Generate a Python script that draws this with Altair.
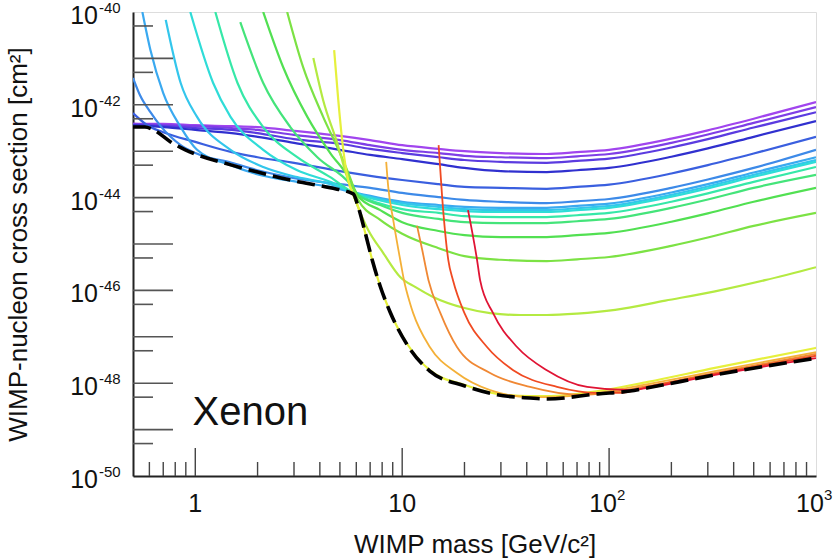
import altair as alt
import pandas as pd

FONT = "Liberation Sans"
W, H = 683, 464

# WIMP masses [GeV/c^2] shared by the lowest-threshold limit curves
flat_mass = [0.5, 0.7, 1, 1.5, 2, 3, 5, 7, 10, 15, 20, 30, 50, 70, 100, 200, 300, 500, 1000]

# log10 of the spin-independent cross-section limit [cm^2]
c01_log = [-42.41, -42.41, -42.44, -42.46, -42.48, -42.56, -42.67, -42.76, -42.87, -42.95,
           -43.00, -43.04, -43.06, -43.02, -42.97, -42.73, -42.55, -42.30, -41.94]
c02_log = [-42.41, -42.44, -42.46, -42.50, -42.54, -42.65, -42.76, -42.87, -42.97, -43.04,
           -43.10, -43.13, -43.15, -43.11, -43.06, -42.82, -42.64, -42.39, -42.05]
c03_log = [-42.44, -42.46, -42.50, -42.54, -42.61, -42.74, -42.84, -42.95, -43.04, -43.13,
           -43.19, -43.23, -43.25, -43.21, -43.16, -42.92, -42.74, -42.49, -42.16]
c04_log = [-42.44, -42.48, -42.54, -42.61, -42.69, -42.82, -42.97, -43.08, -43.17, -43.28,
           -43.36, -43.43, -43.45, -43.41, -43.36, -43.12, -42.94, -42.69, -42.35]

c05_mass = [0.5, 0.586, 0.7, 1, 1.5, 2, 3, 5, 7, 10, 15, 20, 30, 50, 70, 100, 200, 300, 500, 1000]
c05_log = [-42.18, -42.44, -42.59, -42.80, -43.02, -43.13, -43.25, -43.43, -43.53, -43.62,
           -43.71, -43.77, -43.79, -43.81, -43.77, -43.72, -43.48, -43.30, -43.05, -42.69]

c06_mass = [0.5, 0.54, 0.607, 0.68, 0.76, 0.85, 1, 1.5, 2, 3, 5, 7, 10, 15, 20, 30, 50, 70,
            100, 200, 300, 500, 1000]
c06_log = [-41.42, -41.79, -42.16, -42.46, -42.69, -42.87, -43.04, -43.25, -43.41, -43.58,
           -43.71, -43.79, -43.90, -43.99, -44.05, -44.09, -44.12, -44.08, -44.03, -43.79,
           -43.61, -43.36, -42.97]

c07_mass = [0.555, 0.607, 0.70, 0.85, 1.02, 1.48, 2.13, 3.11, 4.49, 5.73, 10, 15, 20, 30, 50,
            70, 100, 200, 300, 500, 1000]
c07_log = [-40.00, -40.82, -41.75, -42.48, -42.97, -43.30, -43.53, -43.66, -43.77, -43.88,
           -44.09, -44.16, -44.20, -44.22, -44.22, -44.18, -44.13, -43.89, -43.71, -43.46, -43.13]

c08_mass = [0.72, 0.85, 1.02, 1.48, 2.13, 3.11, 4.49, 5.73, 10, 15, 20, 30, 50, 70, 100, 200,
            300, 500, 1000]
c08_log = [-40.17, -41.53, -42.26, -42.97, -43.34, -43.56, -43.71, -43.88, -44.12, -44.20,
           -44.25, -44.27, -44.27, -44.23, -44.18, -43.94, -43.76, -43.51, -43.19]

c09_mass = [0.946, 1.22, 1.48, 2.13, 3.11, 4.49, 5.73, 10, 15, 20, 30, 50, 70, 100, 200, 300,
            500, 1000]
c09_log = [-40.00, -41.53, -42.26, -42.97, -43.41, -43.66, -43.88, -44.16, -44.25, -44.29,
           -44.31, -44.31, -44.27, -44.22, -43.98, -43.80, -43.55, -43.23]

c10_mass = [1.25, 1.60, 2.13, 3.11, 4.49, 5.73, 10, 15, 20, 30, 50, 70, 100, 200, 300, 500, 1000]
c10_log = [-40.00, -41.53, -42.48, -43.13, -43.56, -43.88, -44.25, -44.33, -44.40, -44.42,
           -44.42, -44.38, -44.33, -44.09, -43.91, -43.66, -43.34]

c11_mass = [1.65, 2.13, 2.88, 3.89, 5.61, 6.13, 7.83, 10, 15, 20, 30, 50, 70, 100, 200, 300,
            500, 1000]
c11_log = [-40.22, -41.53, -42.48, -43.13, -43.71, -43.94, -44.16, -44.33, -44.46, -44.53,
           -44.55, -44.55, -44.51, -44.46, -44.22, -44.04, -43.79, -43.51]

c12_mass = [2.13, 2.66, 3.48, 4.49, 5.61, 6.13, 7.83, 10, 15, 20, 30, 50, 70, 100, 200, 300,
            500, 1000]
c12_log = [-40.00, -41.19, -42.26, -43.04, -43.62, -43.97, -44.27, -44.53, -44.72, -44.81,
           -44.85, -44.85, -44.81, -44.76, -44.52, -44.34, -44.09, -43.79]

c13_mass = [2.78, 3.32, 4.15, 5.0, 5.61, 6.13, 7.83, 10, 15, 20, 30, 50, 70, 100, 200, 300,
            500, 1000]
c13_log = [-40.00, -41.19, -42.26, -43.04, -43.58, -44.05, -44.48, -44.78, -45.09, -45.26,
           -45.34, -45.37, -45.33, -45.28, -45.04, -44.86, -44.61, -44.33]

c14_mass = [3.72, 4.15, 4.85, 5.42, 5.93, 6.85, 8.09, 9.78, 11.6, 14.1, 20, 26.6, 37.2, 50, 70,
            107, 187, 325, 567, 1000]
c14_log = [-40.99, -41.90, -42.82, -43.56, -44.05, -44.70, -45.19, -45.71, -45.93, -46.14,
           -46.38, -46.49, -46.53, -46.53, -46.50, -46.42, -46.22, -46.02, -45.78, -45.50]

c15_mass = [4.69, 4.91, 5.19, 5.48, 5.80, 6.13, 6.63, 7.16, 7.83, 8.75, 10.6, 13.6, 20.1, 28.8,
            41.5, 50, 88.5, 154, 325, 1000]
c15_log = [-40.82, -41.90, -42.97, -43.62, -43.94, -44.20, -44.76, -45.34, -45.91, -46.47,
           -47.16, -47.72, -48.04, -48.23, -48.28, -48.28, -48.17, -47.97, -47.67, -47.24]

c16_mass = [8.37, 8.56, 9.05, 9.78, 10.2, 10.9, 11.3, 13.6, 18.4, 26.6, 41.5, 50, 88.5, 154,
            325, 1000]
c16_log = [-43.23, -43.77, -44.48, -45.34, -45.78, -46.27, -46.49, -47.22, -47.78, -48.15,
           -48.30, -48.30, -48.21, -48.02, -47.74, -47.33]

c17_mass = [11.8, 12.5, 13.4, 15.3, 18.4, 26.6, 41.5, 72.4, 88.5, 154, 325, 1000]
c17_log = [-44.61, -45.13, -45.78, -46.49, -47.22, -47.78, -48.08, -48.25, -48.23, -48.06,
           -47.78, -47.37]

c18_mass = [15, 15.6, 16.7, 17.6, 20, 25.7, 34.4, 56, 87.5, 113, 154, 325, 1000]
c18_log = [-42.87, -43.99, -45.34, -45.78, -46.49, -47.22, -47.72, -48.08, -48.21, -48.21,
           -48.08, -47.80, -47.41]

c19_mass = [20.8, 23.0, 23.8, 27.5, 35.9, 50, 78.3, 126, 154, 325, 1000]
c19_log = [-44.27, -45.34, -45.78, -46.49, -47.22, -47.72, -48.08, -48.15, -48.10, -47.82,
           -47.46]

# best limit over all configurations
best_mass = [0.5, 0.57, 0.64, 0.76, 0.895, 1, 1.5, 2, 3, 4.49, 5.80, 6.13, 6.63, 7.16, 7.83,
             8.75, 10.6, 13.6, 20.1, 28.8, 41.5, 50, 88.5, 126, 154, 325, 1000]
best_log = [-42.48, -42.48, -42.56, -42.80, -42.97, -43.06, -43.30, -43.45, -43.64, -43.79,
            -43.92, -44.20, -44.76, -45.34, -45.91, -46.47, -47.18, -47.74, -48.06, -48.25,
            -48.32, -48.34, -48.23, -48.17, -48.10, -47.82, -47.46]

curves = [
    ("c01", "#a145ee", flat_mass, c01_log, 2.2),
    ("c02", "#7f3ee6", flat_mass, c02_log, 2.2),
    ("c03", "#5b3be0", flat_mass, c03_log, 2.2),
    ("c04", "#3030cf", flat_mass, c04_log, 2.2),
    ("c05", "#3a5fdf", c05_mass, c05_log, 2.2),
    ("c06", "#3d8ae8", c06_mass, c06_log, 2.2),
    ("c07", "#3aa9f0", c07_mass, c07_log, 2.2),
    ("c08", "#33c6ec", c08_mass, c08_log, 2.2),
    ("c09", "#2fdcd8", c09_mass, c09_log, 2.2),
    ("c10", "#36e8a8", c10_mass, c10_log, 2.2),
    ("c11", "#44e47a", c11_mass, c11_log, 2.2),
    ("c12", "#52e052", c12_mass, c12_log, 2.2),
    ("c13", "#7ce244", c13_mass, c13_log, 2.2),
    ("c14", "#b4ea42", c14_mass, c14_log, 2.2),
    ("c15", "#e6f03c", c15_mass, c15_log, 2.2),
    ("c16", "#f4b038", c16_mass, c16_log, 1.8),
    ("c17", "#f08834", c17_mass, c17_log, 1.8),
    ("c18", "#f04a22", c18_mass, c18_log, 1.8),
    ("c19", "#e01434", c19_mass, c19_log, 1.8),
]

rows = []
for name, color, masses, logs, width in curves:
    for i, (m, lg) in enumerate(zip(masses, logs)):
        rows.append({"curve": name, "mass": m, "sigma": 10.0 ** lg, "i": i, "w": width})
lines_df = pd.DataFrame(rows)

best_df = pd.DataFrame({"mass": best_mass, "sigma": [10.0 ** v for v in best_log],
                        "i": list(range(len(best_mass)))})

xscale = alt.Scale(type="log", domain=[0.5, 1000], nice=False)
yscale = alt.Scale(type="log", domain=[1e-50, 1e-40], nice=False)

x_axis = alt.Axis(labels=False, ticks=False, grid=False, domainColor="#222", domainWidth=2,
                  title="WIMP mass [GeV/c²]", titleFont=FONT, titleFontSize=26,
                  titleFontWeight="normal", titleColor="#111", titlePadding=55)
y_axis = alt.Axis(labels=False, ticks=False, grid=False, domainColor="#222", domainWidth=2,
                  title="WIMP-nucleon cross section [cm²]", titleFont=FONT, titleFontSize=26,
                  titleFontWeight="normal", titleColor="#111", titlePadding=102)


def xenc(field):
    return alt.X(field, scale=xscale, axis=x_axis)


def yenc(field):
    return alt.Y(field, scale=yscale, axis=y_axis)


curve_layer = alt.Chart(lines_df).mark_line(clip=True, interpolate="monotone").encode(
    x=xenc("mass:Q"),
    y=yenc("sigma:Q"),
    color=alt.Color("curve:N", scale=alt.Scale(domain=[c[0] for c in curves],
                                               range=[c[1] for c in curves]), legend=None),
    strokeWidth=alt.StrokeWidth("w:Q", scale=None),
    detail="curve:N",
    order="i:Q",
)

best_layer = alt.Chart(best_df).mark_line(
    clip=True, interpolate="monotone", color="#000", strokeWidth=3.6, strokeDash=[18, 7]
).encode(x=xenc("mass:Q"), y=yenc("sigma:Q"), order="i:Q")

# y ticks: decades (long) and 5x decades (short), drawn inward from the left edge
y_major = pd.DataFrame({"sigma": [10.0 ** e for e in range(-49, -40)]})
y_minor = pd.DataFrame({"sigma": [5 * 10.0 ** e for e in range(-50, -40)]})
ytick_major = alt.Chart(y_major).mark_rule(color="#555", strokeWidth=1.6).encode(
    y=yenc("sigma:Q"), x=alt.value(0), x2=alt.value(40))
ytick_minor = alt.Chart(y_minor).mark_rule(color="#555", strokeWidth=1.6).encode(
    y=yenc("sigma:Q"), x=alt.value(0), x2=alt.value(20))

# x ticks: decades (long) and intermediate values (short), drawn upward from the bottom
x_major = pd.DataFrame({"mass": [1, 10, 100]})
x_minor = pd.DataFrame({"mass": [0.6, 0.7, 0.8, 0.9]
                        + [k * d for d in (1, 10, 100) for k in range(2, 10)]})
xtick_major = alt.Chart(x_major).mark_rule(color="#444", strokeWidth=1.4).encode(
    x=xenc("mass:Q"), y=alt.value(H), y2=alt.value(H - 28))
xtick_minor = alt.Chart(x_minor).mark_rule(color="#444", strokeWidth=1.4).encode(
    x=xenc("mass:Q"), y=alt.value(H), y2=alt.value(H - 14))

# tick labels written as 10 with a raised exponent
y_lab = pd.DataFrame({"sigma": [1e-40, 1e-42, 1e-44, 1e-46, 1e-48, 1e-50],
                      "exp": ["-40", "-42", "-44", "-46", "-48", "-50"]})
ylab_base = alt.Chart(y_lab).mark_text(
    align="right", baseline="alphabetic", dx=-35, dy=12, font=FONT, fontSize=25, color="#111"
).encode(y=yenc("sigma:Q"), x=alt.value(0), text=alt.value("10"))
ylab_exp = alt.Chart(y_lab).mark_text(
    align="left", baseline="alphabetic", dx=-34, dy=1, font=FONT, fontSize=15, color="#111"
).encode(y=yenc("sigma:Q"), x=alt.value(0), text="exp:N")

x_lab_plain = pd.DataFrame({"mass": [1, 10], "txt": ["1", "10"]})
x_lab_pow = pd.DataFrame({"mass": [100, 1000], "exp": ["2", "3"]})
xlab_plain = alt.Chart(x_lab_plain).mark_text(
    align="center", baseline="alphabetic", dy=36, font=FONT, fontSize=25, color="#111"
).encode(x=xenc("mass:Q"), y=alt.value(H), text="txt:N")
xlab_base = alt.Chart(x_lab_pow).mark_text(
    align="center", baseline="alphabetic", dx=-6, dy=36, font=FONT, fontSize=25, color="#111"
).encode(x=xenc("mass:Q"), y=alt.value(H), text=alt.value("10"))
xlab_exp = alt.Chart(x_lab_pow).mark_text(
    align="left", baseline="alphabetic", dx=8, dy=24, font=FONT, fontSize=15, color="#111"
).encode(x=xenc("mass:Q"), y=alt.value(H), text="exp:N")

target = pd.DataFrame({"mass": [0.97], "sigma": [10.0 ** -48.9], "txt": ["Xenon"]})
target_layer = alt.Chart(target).mark_text(
    align="left", baseline="alphabetic", font=FONT, fontSize=40, color="#111"
).encode(x=xenc("mass:Q"), y=yenc("sigma:Q"), text="txt:N")

chart = alt.layer(
    curve_layer, best_layer, ytick_major, ytick_minor, xtick_major, xtick_minor,
    ylab_base, ylab_exp, xlab_plain, xlab_base, xlab_exp, target_layer,
).properties(
    width=W, height=H,
    autosize=alt.AutoSizeParams(type="none"),
    padding={"left": 133, "top": 12, "right": 19, "bottom": 84},
).configure_view(
    stroke="#777", strokeWidth=1.6
).configure(background="white")

chart.save("out.html", embed_options={"renderer": "svg", "actions": False})
